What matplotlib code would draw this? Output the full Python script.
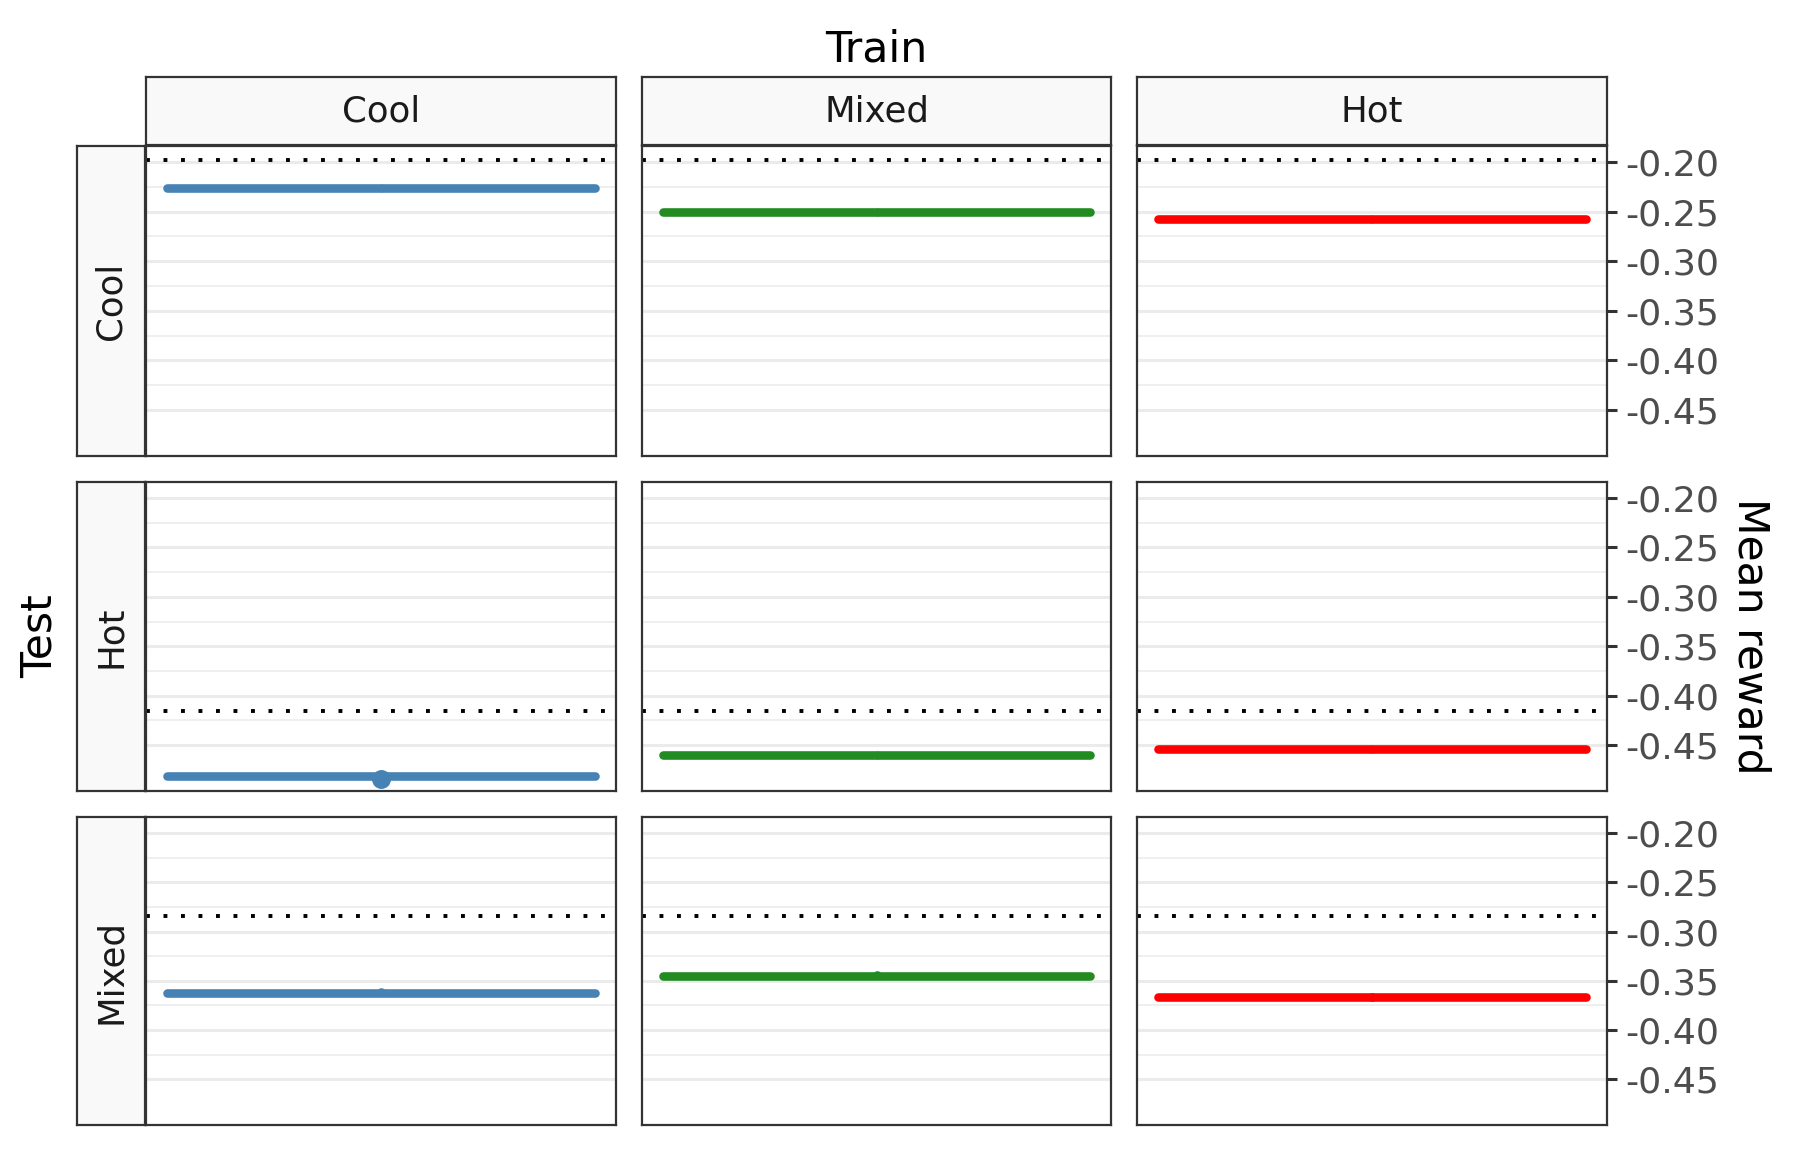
import matplotlib
matplotlib.use("Agg")
import matplotlib.pyplot as plt

# facet levels
train_levels = ["Cool", "Mixed", "Hot"]
test_levels = ["Cool", "Hot", "Mixed"]
train_colors = ["steelblue", "forestgreen", "red"]

# x positions of the series
steps = [1, 2, 3]

# mean reward per (test row, train column)
mean_reward = [
    [-0.2262, -0.2507, -0.2572],
    [-0.4815, -0.4596, -0.4540],
    [-0.3620, -0.3448, -0.3667],
]
# point estimate shown in the middle of each segment
point_reward = [
    [-0.2262, -0.2507, -0.2572],
    [-0.4840, -0.4596, -0.4540],
    [-0.3617, -0.3445, -0.3664],
]
point_size = [
    [2.8, 2.8, 2.8],
    [6.8, 2.8, 2.8],
    [3.1, 3.1, 3.1],
]
# dotted reference level for each test condition
baseline = [-0.1978, -0.4152, -0.2845]

ytick_vals = [-0.20, -0.25, -0.30, -0.35, -0.40, -0.45]
yminor_vals = [-0.225, -0.275, -0.325, -0.375, -0.425]

W, H = 1800, 1150
fig = plt.figure(figsize=(9, 5.75), dpi=200)


def box(x0, x1, y0, y1):
    return [x0 / W, 1 - y1 / H, (x1 - x0) / W, (y1 - y0) / H]


col_x = [(146, 616), (642, 1111), (1137, 1607)]
row_y = [(146, 456), (482, 791), (817, 1125)]
edge = "#333333"
strip_bg = "#F9F9F9"


def strip(rect, label, rotation=0):
    s = fig.add_axes(rect)
    s.set_facecolor(strip_bg)
    s.set_xticks([])
    s.set_yticks([])
    for sp in s.spines.values():
        sp.set_color(edge)
        sp.set_linewidth(0.8)
    s.text(0.5, 0.5, label, ha="center", va="center", rotation=rotation,
           fontsize=12.8, color="#1A1A1A", transform=s.transAxes)
    return s


for j, name in enumerate(train_levels):
    x0, x1 = col_x[j]
    strip(box(x0, x1, 77, 145), name)

for i, name in enumerate(test_levels):
    y0, y1 = row_y[i]
    strip(box(77, 145, y0, y1), name, rotation=90)

for i in range(3):
    for j in range(3):
        x0, x1 = col_x[j]
        y0, y1 = row_y[i]
        ax = fig.add_axes(box(x0, x1, y0, y1))
        ax.set_xlim(0.9, 3.1)
        ax.set_ylim(-0.4963, -0.1838)
        ax.set_yticks(ytick_vals)
        ax.set_yticks(yminor_vals, minor=True)
        ax.set_axisbelow(True)
        ax.grid(axis="y", which="major", color="#EBEBEB", linewidth=1.1)
        ax.grid(axis="y", which="minor", color="#EBEBEB", linewidth=0.55)
        ax.set_xticks([])
        for sp in ax.spines.values():
            sp.set_color(edge)
            sp.set_linewidth(0.8)

        ax.axhline(baseline[i], color="black", linewidth=1.4,
                   linestyle=(0, (1, 3.5)), dash_capstyle="butt", zorder=2)
        val = mean_reward[i][j]
        ax.plot(steps, [val] * len(steps), color=train_colors[j],
                linewidth=3.1, solid_capstyle="round", zorder=3)
        ax.plot([steps[1]], [point_reward[i][j]], "o", color=train_colors[j],
                markersize=point_size[i][j], markeredgewidth=0, zorder=4)

        if j == 2:
            ax.yaxis.tick_right()
            ax.set_yticklabels([f"{v:.2f}" for v in ytick_vals])
            ax.tick_params(axis="y", which="major", length=3.5, width=1.1,
                           color=edge, labelsize=13.1, labelcolor="#4D4D4D", pad=3)
            ax.tick_params(axis="y", which="minor", length=0)
        else:
            ax.tick_params(axis="y", which="both", length=0, labelleft=False,
                           labelright=False)

fig.text(876 / W, 1 - 49 / H, "Train", ha="center", va="center",
         fontsize=15.3, color="black")
fig.text(40 / W, 1 - 636 / H, "Test", ha="center", va="center",
         rotation=90, fontsize=15.3, color="black")
fig.text(1751 / W, 1 - 636 / H, "Mean reward", ha="center", va="center",
         rotation=-90, fontsize=15.3, color="black")

fig.savefig("out.png", dpi=200, facecolor="white")
